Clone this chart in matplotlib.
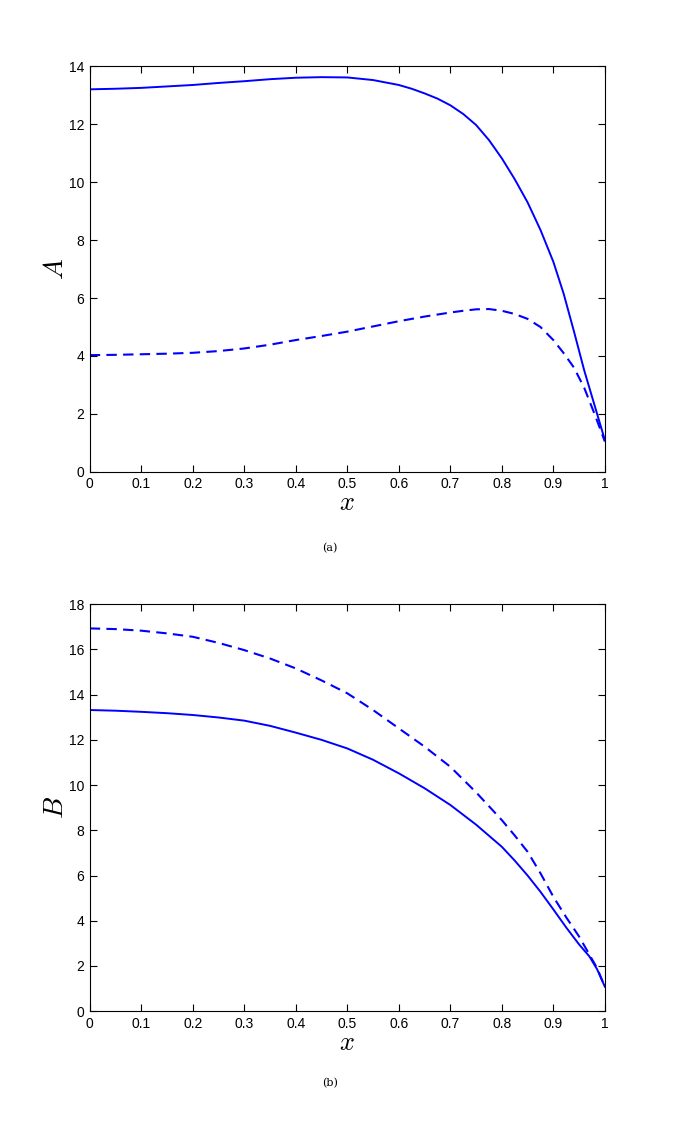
import matplotlib
matplotlib.use("Agg")
import matplotlib.pyplot as plt

# values
x_a = [0.0, 0.05, 0.1, 0.15, 0.2, 0.25, 0.3, 0.35, 0.4, 0.45, 0.5, 0.55, 0.6, 0.625,
       0.65, 0.675, 0.7, 0.725, 0.75, 0.775, 0.8, 0.825, 0.85, 0.875, 0.9, 0.92,
       0.94, 0.96, 0.98, 1.0]
a_solid = [13.2, 13.22, 13.25, 13.3, 13.35, 13.42, 13.48, 13.55, 13.6, 13.62, 13.61,
           13.52, 13.35, 13.22, 13.06, 12.88, 12.65, 12.35, 11.97, 11.45, 10.82, 10.1,
           9.3, 8.35, 7.25, 6.15, 4.85, 3.5, 2.3, 1.1]
a_dashed = [4.03, 4.04, 4.06, 4.08, 4.11, 4.17, 4.26, 4.39, 4.55, 4.69, 4.84, 5.02, 5.2,
            5.28, 5.36, 5.43, 5.5, 5.56, 5.61, 5.62, 5.56, 5.45, 5.28, 5.0, 4.55, 4.1,
            3.6, 2.9, 2.0, 1.05]

x_b = [0.0, 0.05, 0.1, 0.15, 0.2, 0.25, 0.3, 0.35, 0.4, 0.45, 0.5, 0.55, 0.6, 0.65,
       0.7, 0.75, 0.8, 0.825, 0.85, 0.875, 0.9, 0.925, 0.95, 0.97, 0.985, 1.0]
b_solid = [13.32, 13.29, 13.24, 13.18, 13.1, 12.99, 12.85, 12.62, 12.32, 12.0, 11.62,
           11.12, 10.52, 9.86, 9.12, 8.25, 7.27, 6.66, 6.0, 5.28, 4.5, 3.7, 2.95, 2.42,
           1.85, 1.08]
b_dashed = [16.93, 16.9, 16.83, 16.71, 16.56, 16.29, 15.97, 15.6, 15.16, 14.63, 14.06,
            13.32, 12.51, 11.7, 10.81, 9.68, 8.45, 7.77, 7.05, 6.1, 5.06, 4.15, 3.3,
            2.5, 1.9, 1.08]

x_ticks = [0, 0.1, 0.2, 0.3, 0.4, 0.5, 0.6, 0.7, 0.8, 0.9, 1]
x_tick_labels = ['0', '0.1', '0.2', '0.3', '0.4', '0.5', '0.6', '0.7', '0.8', '0.9', '1']

plt.rcParams['font.family'] = ['Liberation Sans', 'DejaVu Sans']
plt.rcParams['mathtext.fontset'] = 'cm'

fig = plt.figure(figsize=(6.85, 11.21), dpi=100)
ax1 = fig.add_axes([0.131, 0.579, 0.752, 0.362])
ax2 = fig.add_axes([0.131, 0.098, 0.752, 0.363])

blue = '#0000ff'


def style_axes(ax, ymax, ylabel):
    ax.set_xlim(0, 1)
    ax.set_ylim(0, ymax)
    ax.set_xticks(x_ticks)
    ax.set_xticklabels(x_tick_labels)
    ax.set_yticks(range(0, ymax + 1, 2))
    ax.tick_params(direction='in', length=5, width=0.8, top=True, right=True,
                   labelsize=10, pad=4)
    for sp in ax.spines.values():
        sp.set_linewidth(0.8)
    ax.set_xlabel(r'$x$', fontsize=19, labelpad=0)
    ax.set_ylabel(r'$%s$' % ylabel, fontsize=20, labelpad=0)


ax1.plot(x_a, a_solid, color=blue, lw=1.4)
ax1.plot(x_a, a_dashed, color=blue, lw=1.5, dashes=(5, 3))
style_axes(ax1, 14, 'A')

ax2.plot(x_b, b_solid, color=blue, lw=1.4)
ax2.plot(x_b, b_dashed, color=blue, lw=1.5, dashes=(5, 3))
style_axes(ax2, 18, 'B')

fig.text(0.482, 1 - 548 / 1121, '(a)', fontsize=8, family='DejaVu Serif',
         ha='center', va='center')
fig.text(0.482, 1 - 1083 / 1121, '(b)', fontsize=8, family='DejaVu Serif',
         ha='center', va='center')

fig.savefig('out.png', dpi=100)
